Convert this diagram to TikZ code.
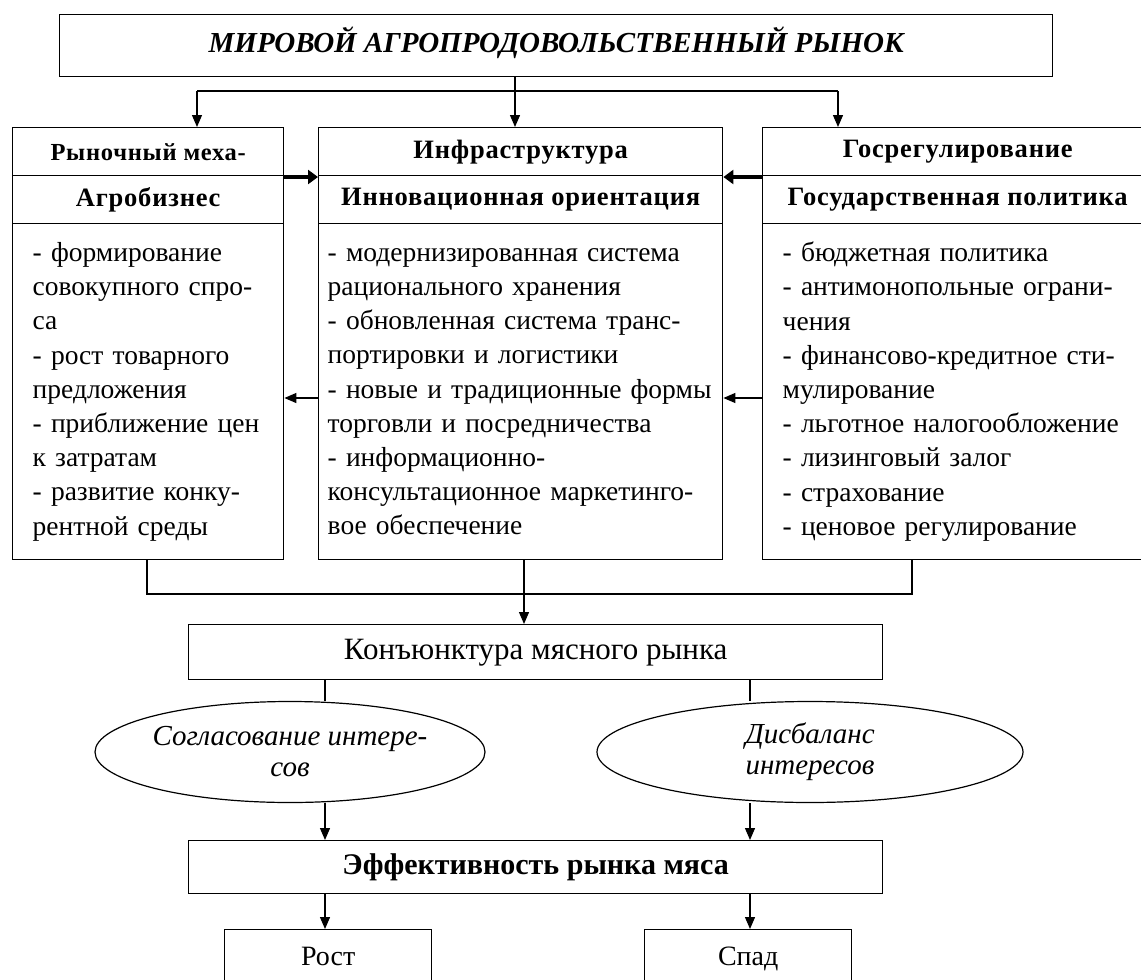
\documentclass[tikz,border=0pt]{standalone}
\usepackage{fontspec}
\setmainfont{Liberation Serif}
\newfontfamily\hdrfont[LetterSpace=3]{Liberation Serif}
\usetikzlibrary{arrows.meta,shapes.geometric}
\tikzset{
  box/.style={draw=black, line width=1.4pt, fill=white, rectangle, anchor=north west, inner sep=0pt, align=center},
  bodybox/.style={draw=black, line width=1.4pt, fill=white, rectangle, anchor=north west, inner ysep=0pt, align=left,
     font=\fontsize{27.5}{34.2}\selectfont},
  hdr/.style={font=\hdrfont\fontsize{26.5}{30}\selectfont\bfseries},
  oval/.style={draw=black, line width=1.2pt, fill=white, ellipse, inner sep=0pt, align=center,
     font=\fontsize{29}{31}\selectfont\itshape},
  conn/.style={line width=1.3pt},
  arr/.style={line width=1.3pt, -{Triangle[length=12pt,width=10pt]}},
  thick arr/.style={line width=4pt, -{Triangle[length=10pt,width=14pt]}},
}
\begin{document}
\begin{tikzpicture}[x=1pt,y=-1pt]
\useasboundingbox (0,0) rectangle (1141,980);
\fill[white] (0,0) rectangle (1141,980);

% top
\node[box, minimum width=993pt, text height=38pt, text depth=24pt, font=\fontsize{29}{30}\selectfont\bfseries\itshape] (top) at (59,14) {МИРОВОЙ АГРОПРОДОВОЛЬСТВЕННЫЙ РЫНОК};

% left column
\node[box, minimum width=271pt, minimum height=48pt, font=\hdrfont\fontsize{24.5}{28}\selectfont\bfseries] (lh1) at (12,127) {Рыночный меха-};
\node[box, minimum width=271pt, minimum height=48pt, hdr] (lh2) at (12,175) {Агробизнес};
\node[bodybox, text width=231pt, inner xsep=20pt, minimum height=336pt] (lb) at (12,223) {- формирование\\совокупного спро-\\са\\- рост товарного\\предложения\\- приближение цен\\к затратам\\- развитие конку-\\рентной среды};

% middle column
\node[box, minimum width=404pt, minimum height=48pt, hdr] (mh1) at (318,127) {Инфраструктура};
\node[box, minimum width=404pt, minimum height=48pt, hdr] (mh2) at (318,175) {Инновационная ориентация};
\node[bodybox, text width=386pt, inner xsep=9pt, minimum height=336pt] (mb) at (318,223) {- модернизированная система\\рационального хранения\\- обновленная система транс-\\портировки и логистики\\- новые и традиционные формы\\торговли и посредничества\\- информационно-\\консультационное маркетинго-\\вое обеспечение};

% right column
\node[box, minimum width=390pt, minimum height=48pt, hdr] (rh1) at (762,127) {Госрегулирование};
\node[box, minimum width=390pt, minimum height=48pt, hdr] (rh2) at (762,175) {Государственная политика};
\node[bodybox, text width=350pt, inner xsep=20pt, minimum height=336pt] (rb) at (762,223) {- бюджетная политика\\- антимонопольные ограни-\\чения\\- финансово-кредитное сти-\\мулирование\\- льготное налогообложение\\- лизинговый залог\\- страхование\\- ценовое регулирование};

% lower part
\node[box, minimum width=694pt, minimum height=55pt, font=\fontsize{31}{32}\selectfont] (konj) at (188,624) {Конъюнктура мясного рынка};
\node[oval, minimum width=390pt, minimum height=101pt] (e1) at (290,752) {Согласование интере-\\сов};
\node[oval, minimum width=426pt, minimum height=101pt] (e2) at (810,752) {Дисбаланс\\интересов};
\node[box, minimum width=694pt, minimum height=53pt, font=\fontsize{30}{32}\selectfont\bfseries] (eff) at (188,840) {Эффективность рынка мяса};
\node[box, minimum width=207pt, text height=36pt, text depth=30pt, font=\fontsize{28}{30}\selectfont] (rost) at (224,929) {Рост};
\node[box, minimum width=207pt, text height=36pt, text depth=30pt, font=\fontsize{28}{30}\selectfont] (spad) at (644,929) {Спад};

% coordinates for connector positions
\coordinate (xl) at (197,0);
\coordinate (xm) at (515,0);
\coordinate (xr) at (838,0);
\coordinate (ybus) at (0,91);
\coordinate (xlb) at (147,0);
\coordinate (xmb) at (524,0);
\coordinate (xrb) at (912,0);
\coordinate (ybus2) at (0,594);
\coordinate (xa) at (325,0);
\coordinate (xb) at (750,0);
\coordinate (yth) at (0,177);
\coordinate (ytn) at (0,398);

% top bus
\draw[conn] (top.south -| xm) -- (ybus -| xm);
\draw[conn] (ybus -| xl) -- (ybus -| xr);
\draw[arr] (ybus -| xl) -- (lh1.north -| xl);
\draw[arr] (ybus -| xm) -- (mh1.north -| xm);
\draw[arr] (ybus -| xr) -- (rh1.north -| xr);

% thick arrows
\draw[thick arr] (lh1.east |- yth) -- (mh1.west |- yth);
\draw[thick arr] (rh1.west |- yth) -- (mh1.east |- yth);

% thin arrows between bodies
\draw[arr] (mb.west |- ytn) -- (lb.east |- ytn);
\draw[arr] (rb.west |- ytn) -- (mb.east |- ytn);

% bottom bus
\draw[conn] (lb.south -| xlb) -- (ybus2 -| xlb) -- (ybus2 -| xrb) -- (rb.south -| xrb);
\draw[arr] (mb.south -| xmb) -- (konj.north -| xmb);

% konj to ellipses
\draw[conn] (konj.south -| xa) -- (e1.north -| xa);
\draw[conn] (konj.south -| xb) -- (e2.north -| xb);

% ellipses to eff
\draw[arr] (e1.south -| xa) -- (eff.north -| xa);
\draw[arr] (e2.south -| xb) -- (eff.north -| xb);

% eff to results
\draw[arr] (eff.south -| xa) -- (rost.north -| xa);
\draw[arr] (eff.south -| xb) -- (spad.north -| xb);
\end{tikzpicture}
\end{document}
